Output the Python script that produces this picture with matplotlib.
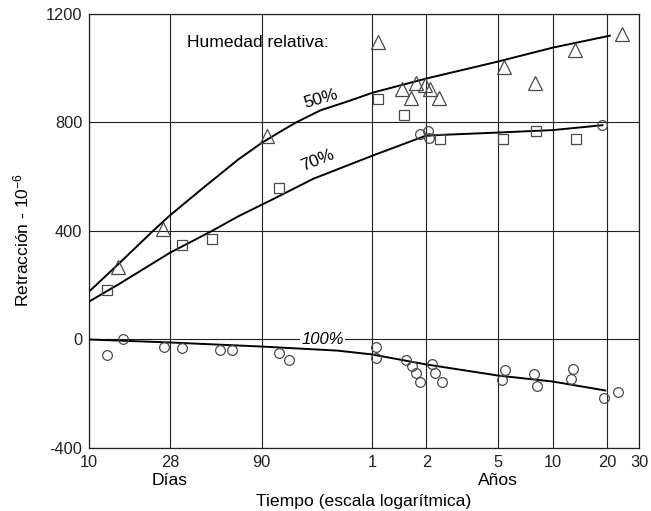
import numpy as np
import matplotlib.pyplot as plt

plt.rcParams['font.family'] = ['Liberation Sans', 'DejaVu Sans']
plt.rcParams['mathtext.default'] = 'regular'
plt.rcParams['axes.unicode_minus'] = False

# --------------------------
# datos (tiempo en dias)
# --------------------------

# humedad relativa 50% (triangulos)
t50_days = [14.5, 25.6, 96, 395, 537, 602, 637, 714, 764, 859, 1968, 2911, 4831, 8790]
t50_vals = [266, 409, 752, 1098, 925, 892, 944, 940, 922, 892, 1006, 944, 1069, 1128]

# humedad relativa 70% (cuadrados)
s70_days = [12.6, 32.4, 47.6, 112.6, 395, 550, 869, 1945, 2948, 4890]
s70_vals = [181, 350, 372, 557, 888, 826, 741, 741, 770, 741]

# circulos sobre la curva de 70%
c70_days = [675, 747, 755, 6872]
c70_vals = [759, 770, 744, 792]

# humedad relativa 100% (circulos)
c100_days = [12.6, 15.3, 25.9, 32.4, 53, 61.3, 112.6, 126.8, 386, 386,
             562, 609, 644, 675, 782, 811, 890, 1918, 1996, 2876, 2987,
             4600, 4715, 6970, 8360]
c100_vals = [-59, 0, -29, -33, -37, -37, -48, -74, -29, -70,
             -77, -96, -125, -155, -92, -125, -158, -151, -111, -129, -170,
             -144, -107, -214, -195]

# curvas ajustadas
curve50_days = [10, 14.5, 22.5, 28, 43.4, 67.1, 90, 115, 139, 190, 269, 369, 730, 1826, 3652, 7550]
curve50_vals = [177, 278, 400, 458, 563, 665, 725, 768, 800, 845, 878, 910, 962, 1025, 1076, 1120]

curve70_days = [10, 14.5, 28, 47, 67.1, 100, 174, 369, 730, 1826, 3652, 6872]
curve70_vals = [140, 203, 320, 398, 455, 512, 593, 678, 752, 763, 772, 790]

curve100_days = [10, 28, 90, 236, 365, 730, 1826, 3652, 7130]
curve100_vals = [0, -11, -26, -41, -55, -92, -133, -155, -188]

tick_days = [10, 28, 90, 365, 730, 1826, 3652, 7305, 10958]
tick_labels = ['10', '28', '90', '1', '2', '5', '10', '20', '30']
y_ticks = [-400, 0, 400, 800, 1200]

# --------------------------
# grafico
# --------------------------

fig = plt.figure(figsize=(6.51, 5.11), dpi=100)
ax = fig.add_axes([0.137, 0.1233, 0.8447, 0.8493])

ax.set_xscale('log')
ax.set_xlim(10, 10958)
ax.set_ylim(-400, 1200)

ax.set_xticks(tick_days)
ax.set_xticklabels(tick_labels)
ax.minorticks_off()
ax.set_yticks(y_ticks)
ax.tick_params(length=0, labelsize=11.8, pad=5, colors='#222222')

ax.grid(True, color='#222222', linewidth=0.8)
ax.set_axisbelow(True)
for s in ax.spines.values():
    s.set_color('#222222')
    s.set_linewidth(0.9)

# curvas
ax.plot(curve50_days, curve50_vals, color='black', lw=1.4, zorder=4)
ax.plot(curve70_days, curve70_vals, color='black', lw=1.4, zorder=4)
ax.plot(curve100_days, curve100_vals, color='black', lw=1.4, zorder=4)

# puntos
mk = dict(linestyle='none', markerfacecolor='none', markeredgecolor='#4a4a4a',
          markeredgewidth=0.9, zorder=5)
ax.plot(t50_days, t50_vals, marker='^', markersize=10.5, **mk)
ax.plot(s70_days, s70_vals, marker='s', markersize=7, **mk)
ax.plot(c70_days, c70_vals, marker='o', markersize=7, **mk)
ax.plot(c100_days, c100_vals, marker='o', markersize=7, **mk)

# etiquetas
ax.text(0.178, 0.935, 'Humedad relativa:', transform=ax.transAxes,
        ha='left', va='center', fontsize=12.6)
ax.text(190, 888, '50%', rotation=16, ha='center', va='center', fontsize=12.5)
ax.text(182, 660, '70%', rotation=22, ha='center', va='center', fontsize=12.5)
ax.text(195, 0, '100%', style='italic', ha='center', va='center', fontsize=12,
        bbox=dict(facecolor='white', edgecolor='none', pad=1.0), zorder=3)

ax.text(28, -0.075, 'Días', transform=ax.get_xaxis_transform(),
        ha='center', va='center', fontsize=12.6)
ax.text(1826, -0.075, 'Años', transform=ax.get_xaxis_transform(),
        ha='center', va='center', fontsize=12.6)

ax.set_xlabel('Tiempo (escala logarítmica)', fontsize=12.6)
ax.xaxis.set_label_coords(0.5, -0.105)
ax.set_ylabel('Retracción - 10$^{-6}$', fontsize=12.6)
ax.yaxis.set_label_coords(-0.105, 0.48)

fig.savefig('out.png', dpi=100)
